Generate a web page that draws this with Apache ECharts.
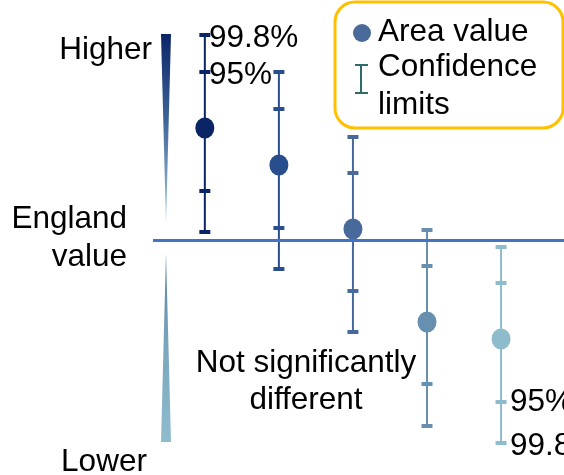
<!DOCTYPE html>
<html>
<head>
<meta charset="utf-8">
<script src="https://cdn.jsdelivr.net/npm/echarts@6/dist/echarts.min.js"></script>
<style>
html,body{margin:0;padding:0;background:#fff;}
#chart{width:564px;height:475px;}
</style>
</head>
<body>
<div id="chart"></div>
<script>
// ---- Data (arbitrary units, England value = 0) ----
const areas = [1, 2, 3, 4, 5];
const areaValues = [112, 75, 11, -82, -99];
const upper998 = [205, 168, 103, 10, -7];
const upper95 = [168, 131, 67, -26, -43];
const lower95 = [49, 12, -51, -144, -162];
const lower998 = [8, -29, -92, -186, -203];
const englandValue = 0;
const areaColors = ['#0b2466', '#284e8e', '#48699c', '#6790b0', '#8fbccd'];

const FONT = 'Liberation Sans, Arial, sans-serif';
const FS = 31.5;

const chart = echarts.init(document.getElementById('chart'), null, {renderer: 'canvas'});

const barData = areas.map((a, i) => [a, lower998[i], lower95[i], areaValues[i], upper95[i], upper998[i]]);
const pointData = areas.map((a, i) => ({value: [a, areaValues[i]], itemStyle: {color: areaColors[i], opacity: 1}}));

function txt(text, x, y, align) {
  return {type: 'text', x: x, y: y, z: 10,
    style: {text: text, font: FS + 'px ' + FONT, fill: '#000', align: align || 'left', verticalAlign: 'middle'}};
}

const option = {
  animation: false,
  backgroundColor: '#fff',
  grid: {left: 153, right: 0, top: 0, bottom: 0},
  xAxis: {type: 'value', min: 0.3, max: 5.85, show: false},
  yAxis: {type: 'value', min: -235, max: 240, show: false},
  series: [
    {
      type: 'custom',
      z: 1,
      data: barData,
      renderItem: function (params, api) {
        const x = api.value(0);
        const c = areaColors[params.dataIndex];
        const pLo99 = api.coord([x, api.value(1)]);
        const pLo95 = api.coord([x, api.value(2)]);
        const pHi95 = api.coord([x, api.value(4)]);
        const pHi99 = api.coord([x, api.value(5)]);
        const hw = 5.5;
        const children = [
          {type: 'line', shape: {x1: pHi99[0], y1: pHi99[1], x2: pLo99[0], y2: pLo99[1]}, style: {stroke: c, lineWidth: 2}}
        ];
        [pHi99, pHi95, pLo95, pLo99].forEach(p => {
          children.push({type: 'rect', shape: {x: p[0] - hw, y: p[1] - 2, width: hw * 2, height: 4}, style: {fill: c}});
        });
        return {type: 'group', children: children};
      }
    },
    {
      type: 'scatter',
      z: 2,
      data: [],
      markLine: {
        silent: true, symbol: 'none', label: {show: false},
        lineStyle: {color: '#4472c4', width: 3, type: 'solid', opacity: 1},
        data: [{yAxis: englandValue}]
      }
    },
    {
      type: 'scatter',
      z: 3,
      symbol: 'circle',
      symbolSize: [19, 21],
      itemStyle: {opacity: 1},
      data: pointData
    }
  ],
  graphic: [
    // higher wedge
    {type: 'polygon', z: 5, shape: {points: [[161, 34], [171, 34], [166, 224]]},
      style: {fill: new echarts.graphic.LinearGradient(0, 0, 0, 1, [
        {offset: 0, color: '#0b2466'}, {offset: 0.45, color: '#3e6399'}, {offset: 1, color: '#a8cfdc'}])}},
    // lower wedge
    {type: 'polygon', z: 5, shape: {points: [[166, 253], [161, 442], [171, 442]]},
      style: {fill: new echarts.graphic.LinearGradient(0, 0, 0, 1, [
        {offset: 0, color: '#5a82a6'}, {offset: 0.5, color: '#7aa6bf'}, {offset: 1, color: '#8fbccc'}])}},
    // legend box
    {type: 'rect', z: 6, shape: {x: 335, y: 2, width: 228, height: 126, r: 20},
      style: {fill: '#fff', stroke: '#ffc000', lineWidth: 3}},
    {type: 'circle', z: 7, shape: {cx: 362, cy: 33, r: 9}, style: {fill: '#4a6a9a'}},
    {type: 'line', z: 7, shape: {x1: 361, y1: 65, x2: 361, y2: 93}, style: {stroke: '#2e6b6b', lineWidth: 2}},
    {type: 'line', z: 7, shape: {x1: 355, y1: 65, x2: 368, y2: 65}, style: {stroke: '#2e6b6b', lineWidth: 2}},
    {type: 'line', z: 7, shape: {x1: 355, y1: 93, x2: 368, y2: 93}, style: {stroke: '#2e6b6b', lineWidth: 2}},
    txt('Area value', 378, 32),
    txt('Confidence', 378, 67),
    txt('limits', 378, 105),
    // side labels
    txt('Higher', 152, 50, 'right'),
    txt('England', 127, 219, 'right'),
    txt('value', 127, 257, 'right'),
    txt('Lower', 104, 462, 'center'),
    // interval labels
    txt('99.8%', 209, 38),
    txt('95%', 209, 75),
    txt('Not significantly', 306, 363, 'center'),
    txt('different', 306, 400, 'center'),
    txt('95%', 510, 402),
    txt('99.8%', 510, 446)
  ]
};
chart.setOption(option);
</script>
</body>
</html>
